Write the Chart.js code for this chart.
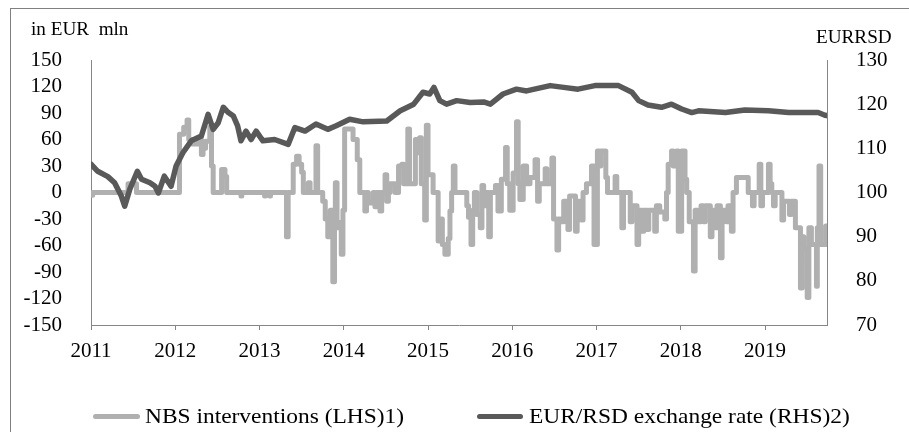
<!DOCTYPE html>
<html>
<head>
<meta charset="utf-8">
<script src="https://cdn.jsdelivr.net/npm/chart.js@4.4.1/dist/chart.umd.min.js"></script>
<style>
  html, body { margin:0; padding:0; background:#fff; }
  #wrap { position:relative; width:909px; height:432px; overflow:hidden; font-family:"Liberation Serif","Tinos","Times New Roman","DejaVu Serif",serif; color:#000; }
  #frame { position:absolute; left:10px; top:8px; width:920px; height:440px; border-left:1px solid #808080; border-top:1px solid #808080; }
  canvas { position:absolute; left:0; top:0; }
  .t { position:absolute; white-space:pre; transform-origin:0 50%; transform:scaleX(1.065); }
  .ax { font-size:18px; line-height:18px; }
  .lg { font-size:22px; line-height:22px; }
  .sw { position:absolute; height:5px; border-radius:3px; }
</style>
</head>
<body>
<div id="wrap">
  <div id="frame"></div>
  <canvas id="c" width="909" height="432"></canvas>
  <div class="t ax" style="left:31px; top:20px;">in EUR  mln</div>
  <div class="t ax" style="left:816px; top:28px;">EURRSD</div>
  <div class="sw" style="left:93px; top:414px; width:47px; background:#b0b0b0;"></div>
  <div class="t lg" style="left:145px; top:405px;">NBS interventions (LHS)1)</div>
  <div class="sw" style="left:477px; top:414px; width:46px; background:#595959;"></div>
  <div class="t lg" style="left:529px; top:405px;">EUR/RSD exchange rate (RHS)2)</div>
</div>
<script>
const yearTicks = [2011, 2012, 2013, 2014, 2015, 2016, 2017, 2018, 2019];
const leftTicks = [-150, -120, -90, -60, -30, 0, 30, 60, 90, 120, 150];
const rightTicks = [70, 80, 90, 100, 110, 120, 130];

const rateYears = [2011.00,2011.08,2011.20,2011.28,2011.36,2011.40,2011.46,2011.55,2011.60,2011.70,2011.76,2011.80,2011.87,2011.95,
  2012.01,2012.09,2012.19,2012.31,2012.39,2012.45,2012.51,2012.57,2012.63,2012.69,2012.74,2012.78,2012.84,2012.90,2012.96,
  2013.04,2013.18,2013.34,2013.42,2013.54,2013.67,2013.81,2013.91,2014.07,2014.23,2014.51,2014.67,2014.83,2014.94,
  2015.02,2015.07,2015.14,2015.22,2015.34,2015.50,2015.66,2015.74,2015.89,2016.05,2016.17,2016.45,2016.61,2016.78,2016.98,
  2017.26,2017.42,2017.50,2017.61,2017.77,2017.89,2018.01,2018.13,2018.21,2018.53,2018.76,2019.04,2019.28,2019.63,2019.71,2019.735];
const rateValues = [106.4,104.8,103.6,102.2,99.2,96.9,100.7,104.8,103.0,102.2,101.4,99.9,103.7,101.4,
  106.0,109.0,111.7,112.8,117.7,114.3,115.8,119.3,118.1,117.3,115.1,111.7,113.9,112.0,113.9,
  111.7,112.0,110.9,114.7,113.9,115.5,114.3,115.1,116.6,116.0,116.2,118.5,120.0,122.7,
  122.3,123.8,120.8,120.0,120.8,120.4,120.5,120.0,122.3,123.4,123.0,124.2,123.8,123.4,124.2,
  124.2,122.7,120.8,119.8,119.3,120.0,118.9,118.1,118.5,118.1,118.7,118.5,118.1,118.1,117.5,117.4];

const interventionYears = [2011.00,2011.02,2011.44,2011.54,
  2012.05,2012.10,2012.14,2012.16,2012.20,2012.27,2012.31,2012.33,2012.36,2012.41,2012.43,2012.45,
  2012.55,2012.59,2012.61,2012.78,2012.79,2013.06,2013.07,2013.12,2013.13,
  2013.32,2013.34,2013.40,2013.44,2013.47,2013.50,2013.52,2013.58,2013.60,2013.67,2013.69,
  2013.75,2013.78,2013.81,2013.84,2013.87,2013.89,2013.90,2013.92,2013.93,2013.97,2013.99,
  2014.01,2014.11,2014.16,2014.19,2014.25,2014.27,2014.29,2014.35,2014.37,2014.39,2014.43,2014.45,
  2014.49,2014.51,2014.53,2014.55,2014.61,2014.65,2014.69,2014.71,2014.76,2014.78,2014.85,2014.88,2014.90,2014.92,2014.96,2014.98,2015.00,2015.06,
  2015.12,2015.14,2015.17,2015.20,2015.24,2015.26,2015.28,2015.30,2015.32,
  2015.46,2015.48,2015.51,2015.53,2015.55,2015.58,2015.62,2015.64,2015.66,2015.68,2015.72,2015.74,
  2015.80,2015.83,2015.87,2015.92,2015.94,2015.97,2016.01,2016.05,2016.07,2016.09,2016.13,2016.17,2016.21,2016.27,2016.30,2016.32,2016.39,2016.41,2016.47,2016.49,2016.53,2016.55,2016.59,2016.61,2016.66,2016.68,2016.75,2016.77,2016.82,2016.84,
  2016.88,2016.94,2016.97,2017.01,2017.03,2017.05,2017.11,2017.13,
  2017.22,2017.24,2017.30,2017.32,2017.40,2017.42,2017.48,2017.50,2017.54,2017.56,2017.60,2017.62,2017.69,2017.71,2017.75,2017.81,2017.83,
  2017.85,2017.89,2017.91,2017.95,2017.97,2018.01,2018.05,2018.07,
  2018.10,2018.15,2018.17,2018.20,2018.24,2018.27,2018.29,2018.35,2018.37,2018.41,2018.43,2018.47,2018.49,2018.54,2018.56,2018.60,2018.62,
  2018.66,2018.80,2018.85,2018.87,2018.93,2018.95,2018.97,2019.04,2019.06,2019.08,2019.10,2019.12,2019.20,2019.22,2019.29,2019.31,2019.36,2019.42,2019.44,2019.46,2019.50,2019.52,2019.55,2019.61,2019.62,2019.64,2019.66,2019.72,2019.735];
const interventionValues = [-3,0,10,0,
  66,74,82,60,55,62,43,50,58,74,30,0,
  26,18,0,-4,0,-4,0,-4,0,
  -50,0,32,41,32,23,0,11,0,53,0,
  -10,-30,-50,-20,-101,-28,11,-40,-34,-70,-20,
  72,60,37,0,-21,0,-12,0,-16,0,-21,0,
  20,-10,0,10,0,30,32,10,72,10,60,45,62,10,-31,76,20,0,
  -55,-30,-59,-70,-52,-21,0,30,0,
  -15,-28,-59,-20,0,-25,-40,8,-15,0,-50,0,
  8,-21,15,51,10,-20,22,80,10,-8,30,10,17,37,-10,10,27,10,39,-30,-65,-30,-33,-10,-42,-4,-44,-10,-31,0,
  10,30,-59,47,30,47,17,0,
  18,0,-40,0,-33,-15,-59,-20,-44,-20,-42,-20,-44,-15,-22,-30,0,
  32,47,30,47,-44,47,15,0,
  -33,-89,-20,-33,-15,-33,-15,-50,-20,-40,-15,-74,-20,-33,-15,-44,0,
  17,0,-15,0,32,-15,0,32,10,0,-15,0,-31,-10,-25,-10,-40,-108,-50,-64,-119,-40,-59,-106,-40,30,-59,-38,-38];

const rateData = rateYears.map((x, i) => ({ x, y: rateValues[i] }));
const interventionData = interventionYears.map((x, i) => ({ x, y: interventionValues[i] }));

Chart.defaults.font.family = '"Liberation Serif", "Tinos", "Times New Roman", "DejaVu Serif", serif';
Chart.defaults.color = '#000';

const axisColor = '#868686';
const tickFont = { size: 21 };

new Chart(document.getElementById('c'), {
  type: 'line',
  data: {
    datasets: [
      { label: 'EUR/RSD exchange rate (RHS)2)', data: rateData, yAxisID: 'y2', borderColor: '#595959', borderWidth: 5.5, pointRadius: 0, tension: 0, borderJoinStyle: 'round', borderCapStyle: 'round', order: 0 },
      { label: 'NBS interventions (LHS)1)', data: interventionData, yAxisID: 'y', stepped: true, borderColor: '#b0b0b0', borderWidth: 5, pointRadius: 0, borderJoinStyle: 'round', borderCapStyle: 'round', order: 1 }
    ]
  },
  options: {
    responsive: false,
    animation: false,
    devicePixelRatio: 1,
    layout: { padding: { top: 60, left: 0, right: 0, bottom: 0 } },
    plugins: { legend: { display: false }, tooltip: { enabled: false }, title: { display: false } },
    scales: {
      x: {
        type: 'linear', min: 2011, max: 2019.735,
        afterBuildTicks: s => { s.ticks = yearTicks.map(v => ({ value: v })); },
        afterFit: s => { s.height = 107; },
        ticks: { font: tickFont, padding: 9, autoSkip: false, maxRotation: 0, callback: v => String(v) },
        grid: { display: true, drawOnChartArea: false, drawTicks: true, tickLength: 5, color: axisColor },
        border: { display: true, color: axisColor, width: 1 }
      },
      y: {
        type: 'linear', position: 'left', min: -150, max: 150,
        afterBuildTicks: s => { s.ticks = leftTicks.map(v => ({ value: v })); },
        afterFit: s => { s.width = 91; },
        ticks: { font: tickFont, padding: 21, autoSkip: false },
        grid: { display: false },
        border: { display: true, color: axisColor, width: 1 }
      },
      y2: {
        type: 'linear', position: 'right', min: 70, max: 130,
        afterBuildTicks: s => { s.ticks = rightTicks.map(v => ({ value: v })); },
        afterFit: s => { s.width = 82; },
        ticks: { font: tickFont, padding: 21, autoSkip: false },
        grid: { display: false },
        border: { display: true, color: axisColor, width: 1 }
      }
    }
  }
});
</script>
</body>
</html>
